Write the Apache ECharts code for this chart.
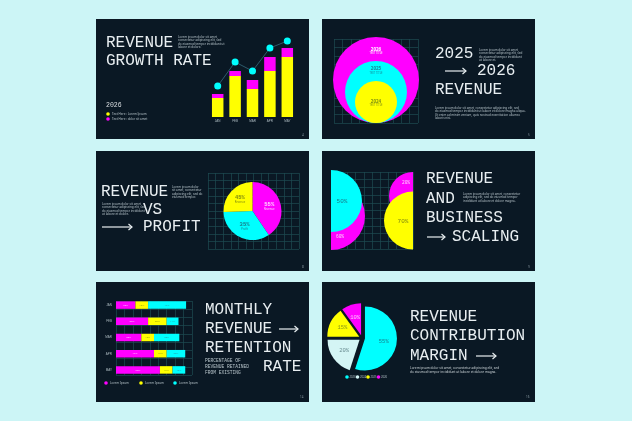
<!DOCTYPE html>
<html lang="en">
<head>
<meta charset="UTF-8">
<title>Revenue slides</title>
<script src="https://cdn.jsdelivr.net/npm/echarts@6/dist/echarts.min.js"></script>
<style>
  html, body { margin: 0; padding: 0; background: #ccf5f6; }
  #main { width: 632px; height: 421px; }
</style>
</head>
<body>
<div id="main"></div>
<script>
var MAG = '#ff00ff', YEL = '#ffff00', CYA = '#00ffff', PALE = '#d4f5f5';
var PANEL = '#0a1824', INK = '#e8eef1', SOFT = '#b7c4ca', GRIDLINE = '#1c4a52';
var MONO = '"Liberation Mono", "DejaVu Sans Mono", monospace';
var SANS = '"Noto Sans", "Liberation Sans", sans-serif';

// slide 1 - growth
var months = ['JAN', 'FEB', 'MAR', 'APR', 'MAY'];
var growthBase = [19, 41, 28, 46, 60];
var growthTop = [4, 5, 9, 14, 9];
var growthRate = [31, 55, 46, 69, 76];
// slide 2 - years (circle diameters)
var yearNames = ['2026', '2025', '2024'];
var yearSizes = [86, 62, 42];
// slide 3 - revenue vs profit
var vsNames = ['Revenue', 'Profit', 'Revenue'];
var vsShare = [40.5, 34, 25.5];
var vsLabels = ['55%', '35%', '45%'];
// slide 4 - scaling halves
var scaleShare = [60, 50, 20, 70];
// slide 5 - retention
var retainA = [23, 38, 30, 45, 52];
var retainB = [15, 22, 15, 15, 15];
var retainC = [45, 14, 30, 22, 15];
// slide 6 - contribution
var marginNames = ['2023', '2024', '2025', '2026'];
var marginShare = [55, 20, 15, 10];

var graphics = [];
function panel(x, y) {
    graphics.push({type: 'rect', silent: true, z: -5, shape: {x: x, y: y, width: 213, height: 120}, style: {fill: PANEL}});
}
function txt(x, y, s, size, extra) {
    var st = {text: s, x: x, y: y, fill: INK, font: size + 'px ' + MONO,
        align: 'left', verticalAlign: 'middle', textAlign: 'left', textVerticalAlign: 'middle'};
    for (var k in extra) st[k] = extra[k];
    graphics.push({type: 'text', silent: true, z: 10, style: st});
}
function para(x, y, s, size, lh, color) {
    graphics.push({type: 'text', silent: true, z: 10, style: {text: s, x: x, y: y, fill: color || SOFT,
        font: size + 'px ' + SANS, lineHeight: lh, align: 'left', verticalAlign: 'top',
        textAlign: 'left', textVerticalAlign: 'top'}});
}
function arrow(x1, x2, y) {
    graphics.push({type: 'polyline', silent: true, z: 10, shape: {points: [[x1, y], [x2, y]]}, style: {stroke: INK, lineWidth: 1.2, fill: null}});
    graphics.push({type: 'polyline', silent: true, z: 10, shape: {points: [[x2 - 3.5, y - 3], [x2, y], [x2 - 3.5, y + 3]]}, style: {stroke: INK, lineWidth: 1.2, fill: null}});
}
function dot(x, y, c) {
    graphics.push({type: 'circle', silent: true, z: 10, shape: {cx: x, cy: y, r: 1.8}, style: {fill: c}});
}

// panels
panel(96, 19); panel(322, 19);
panel(96, 151); panel(322, 151);
panel(96, 282); panel(322, 282);

// slide 1 texts
txt(106, 43, 'REVENUE', 16);
txt(106, 61, 'GROWTH RATE', 16);
para(178, 35, 'Lorem ipsum dolor sit amet,\nconsectetur adipiscing elit, sed\ndo eiusmod tempor incididunt ut\nlabore et dolore.', 3, 3.5);
txt(106, 105, '2026', 6.5, {fill: '#d8dde0'});
dot(108, 114, YEL); dot(108, 119, MAG);
para(112, 112.3, 'Text Here : Lorem Ipsum', 3, 3.5);
para(112, 117.3, 'Text Here : dolor sit amet', 3, 3.5);
para(302, 133.5, '4', 3, 3.5, '#8a9aa3');

// slide 2 texts
txt(435, 54, '2025', 16);
arrow(445, 466, 71);
txt(477, 71, '2026', 16);
txt(435, 90, 'REVENUE', 16);
para(479, 48, 'Lorem ipsum dolor sit amet,\nconsectetur adipiscing elit, sed\ndo eiusmod tempor incididunt\nut labore et.', 3, 3.5);
para(435, 106, 'Lorem ipsum dolor sit amet, consectetur adipiscing elit, sed\ndo eiusmod tempor incididunt ut labore et dolore magna aliqua.\nUt enim ad minim veniam, quis nostrud exercitation ullamco\nlaboris nisi.', 3, 3.5);
para(528, 133.5, '5', 3, 3.5, '#8a9aa3');

// slide 3 texts
txt(101, 192, 'REVENUE', 16);
txt(143, 210, 'VS', 16);
txt(143, 227, 'PROFIT', 16);
arrow(102, 132, 227);
para(172, 185, 'Lorem ipsum dolor\nsit amet, consectetur\nadipiscing elit, sed do\neiusmod tempor.', 3, 3.5);
para(102, 202, 'Lorem ipsum dolor sit amet,\nconsectetur adipiscing elit, sed\ndo eiusmod tempor incididunt\nut labore et dolore.', 3, 3.5);
para(302, 265, '8', 3, 3.5, '#8a9aa3');

// slide 4 texts
txt(426, 179, 'REVENUE', 16);
txt(426, 199, 'AND', 16);
txt(426, 218, 'BUSINESS', 16);
arrow(427, 445, 237);
txt(452, 237, 'SCALING', 16);
para(463, 192, 'Lorem ipsum dolor sit amet, consectetur\nadipiscing elit, sed do eiusmod tempor\nincididunt ut labore et dolore magna.', 3, 3.5);
para(528, 265, '9', 3, 3.5, '#8a9aa3');
// labels of the half discs
var scaleLabelPos = [[340, 237], [342, 201], [406, 183], [403, 221]];
var scaleLabelColor = ['#ffd6ff', '#177a88', '#ffd6ff', '#7f8a0e'];
var scaleLabelSize = [4.5, 6, 4.5, 6];
for (var j = 0; j < scaleShare.length; j++) {
    txt(scaleLabelPos[j][0], scaleLabelPos[j][1], scaleShare[j] + '%', scaleLabelSize[j],
        {fill: scaleLabelColor[j], align: 'center', textAlign: 'center'});
}

// slide 5 texts
txt(205, 310, 'MONTHLY', 16);
txt(205, 329, 'REVENUE', 16);
arrow(279, 298, 329);
txt(205, 348, 'RETENTION', 16);
txt(263, 367, 'RATE', 16);
graphics.push({type: 'text', silent: true, z: 10, style: {text: 'PERCENTAGE OF\nREVENUE RETAINED\nFROM EXISTING', x: 205, y: 358,
    fill: SOFT, font: '4.6px ' + MONO, lineHeight: 6, align: 'left', verticalAlign: 'top', textAlign: 'left', textVerticalAlign: 'top'}});
dot(106, 383, MAG); dot(141, 383, YEL); dot(175, 383, CYA);
para(110, 381.3, 'Lorem Ipsum', 3, 3.5);
para(145, 381.3, 'Lorem Ipsum', 3, 3.5);
para(179, 381.3, 'Lorem Ipsum', 3, 3.5);
para(300, 395.5, '14', 3, 3.5, '#8a9aa3');

// slide 6 texts
txt(410, 317, 'REVENUE', 16);
txt(410, 336, 'CONTRIBUTION', 16);
txt(410, 356, 'MARGIN', 16);
arrow(476, 496, 356);
para(410, 366.5, 'Lorem ipsum dolor sit amet, consectetur adipiscing elit, sed\ndo eiusmod tempor incididunt ut labore et dolore magna.', 3.2, 4, '#d0d8dc');
para(526, 395.5, '16', 3, 3.5, '#8a9aa3');
var marginColors = [CYA, PALE, YEL, MAG];
for (var i = 0; i < marginNames.length; i++) {
    dot(347 + i * 10.5, 377, marginColors[i]);
    para(349.5 + i * 10.5, 375.6, marginNames[i], 2.6, 3);
}

function lattice(idx, n, step) {
    return {type: 'value', gridIndex: idx, min: 0, max: n, interval: step,
        axisLine: {show: false}, axisTick: {show: false}, axisLabel: {show: false},
        splitLine: {show: true, lineStyle: {color: GRIDLINE, width: 0.7}}};
}

function halfPie(center, r, clockwise, color, idx) {
    return {
        type: 'pie', silent: true, center: center, radius: r, startAngle: 90, clockwise: clockwise,
        label: {show: false}, labelLine: {show: false}, emphasis: {disabled: true},
        data: [
            {value: 50, name: 'share' + idx, itemStyle: {color: color}},
            {value: 50, name: 'rest' + idx, itemStyle: {color: 'rgba(0,0,0,0)'}}
        ]
    };
}

var circleColors = [MAG, CYA, YEL];
var circleText = ['#ffffff', '#168a98', '#7f8f12'];
var circleOffset = [[0, -29], [0, -21.5], [0, 1]];
var circleData = yearSizes.map(function (d, i) {
    return {value: [42, d / 2], name: yearNames[i], symbolSize: d, itemStyle: {color: circleColors[i], opacity: 1},
        label: {show: true, position: 'inside', offset: circleOffset[i], color: circleText[i],
            formatter: '{a|{b}}\n{s|TEXT TITLE}',
            rich: {a: {fontSize: 4.5, fontWeight: 'bold', fontFamily: SANS, align: 'center'},
                   s: {fontSize: 2.6, fontFamily: SANS, align: 'center'}}}};
});

var vsColors = [MAG, CYA, YEL];
var vsText = ['#ffd6ff', '#177a88', '#7f8a0e'];
var vsData = vsShare.map(function (v, i) {
    return {value: v, name: vsNames[i], itemStyle: {color: vsColors[i]},
        label: {color: vsText[i], formatter: '{p|' + vsLabels[i] + '}\n{n|{b}}'}};
});

var marginText = ['#16808e', '#6a8d92', '#8c9a16', '#ffc4ff'];
var marginData = marginShare.map(function (v, i) {
    return {value: v, name: marginNames[i], selected: true, itemStyle: {color: marginColors[i]},
        label: {color: marginText[i]}};
});

function retainBar(data, color, labelColor) {
    return {type: 'bar', xAxisIndex: 5, yAxisIndex: 5, stack: 'r', barWidth: 7.5, data: data,
        itemStyle: {color: color}, silent: true,
        label: {show: true, position: 'inside', formatter: '{c}%', fontSize: 2.5, color: labelColor, fontFamily: SANS}};
}

var myChart = echarts.init(document.getElementById('main'));
var option = {
    backgroundColor: '#ccf5f6',
    animation: false,
    grid: [
        {left: 209, top: 36, width: 87, height: 81},
        {left: 334, top: 39, width: 84, height: 84},
        {left: 208, top: 173, width: 91, height: 76},
        {left: 331, top: 172, width: 82, height: 77},
        {left: 116, top: 301, width: 76, height: 74},
        {left: 116, top: 297, width: 76, height: 81}
    ],
    xAxis: [
        {type: 'category', gridIndex: 0, data: months, axisLine: {show: false}, axisTick: {show: false},
            axisLabel: {fontSize: 3, color: '#aab8be', margin: 3}},
        lattice(1, 84, 8.4),
        lattice(2, 12, 1),
        lattice(3, 10, 1),
        lattice(4, 9, 1),
        {type: 'value', gridIndex: 5, min: 0, max: 90, show: false}
    ],
    yAxis: [
        {type: 'value', gridIndex: 0, min: 0, max: 81, show: false},
        lattice(1, 84, 8.4),
        lattice(2, 10, 1),
        lattice(3, 10, 1),
        lattice(4, 9, 1),
        {type: 'category', gridIndex: 5, data: months, inverse: true, axisLine: {show: false}, axisTick: {show: false},
            axisLabel: {fontSize: 3, color: '#aab8be', margin: 4}}
    ],
    graphic: {elements: graphics},
    series: [
        {type: 'bar', xAxisIndex: 0, yAxisIndex: 0, stack: 'g', barWidth: 11.5, data: growthBase, itemStyle: {color: YEL}, silent: true},
        {type: 'bar', xAxisIndex: 0, yAxisIndex: 0, stack: 'g', barWidth: 11.5, data: growthTop, itemStyle: {color: MAG}, silent: true},
        {type: 'line', xAxisIndex: 0, yAxisIndex: 0, data: growthRate, symbol: 'circle', symbolSize: 7, z: 3,
            itemStyle: {color: CYA}, lineStyle: {color: '#2d5a6b', width: 1}, silent: true},

        {type: 'scatter', xAxisIndex: 1, yAxisIndex: 1, data: circleData, clip: false, silent: true},

        {type: 'pie', silent: true, center: [252.5, 211], radius: 29, startAngle: 90, data: vsData,
            avoidLabelOverlap: false, labelLine: {show: false}, emphasis: {disabled: true},
            label: {show: true, position: 'inside', lineHeight: 5,
                rich: {p: {fontSize: 5.5, fontFamily: MONO, fontWeight: 'bold', lineHeight: 6},
                       n: {fontSize: 2.6, fontFamily: SANS, lineHeight: 3}}}},

        halfPie([331, 216], 34, true, MAG, 0),
        halfPie([331, 201], 31, true, CYA, 1),
        halfPie([413, 196], 24, false, MAG, 2),
        halfPie([413, 220.5], 29, false, YEL, 3),

        retainBar(retainA, MAG, '#ffc4ff'),
        retainBar(retainB, YEL, '#8f9a10'),
        retainBar(retainC, CYA, '#2a98a6'),

        {type: 'pie', silent: true, center: [362, 338], radius: 32, startAngle: 90, data: marginData,
            selectedMode: 'multiple', selectedOffset: 3, avoidLabelOverlap: false,
            labelLine: {show: false}, emphasis: {disabled: true},
            label: {show: true, position: 'inside', formatter: '{c}%', fontSize: 5.5, fontFamily: MONO}}
    ]
};
myChart.setOption(option);
</script>
</body>
</html>
